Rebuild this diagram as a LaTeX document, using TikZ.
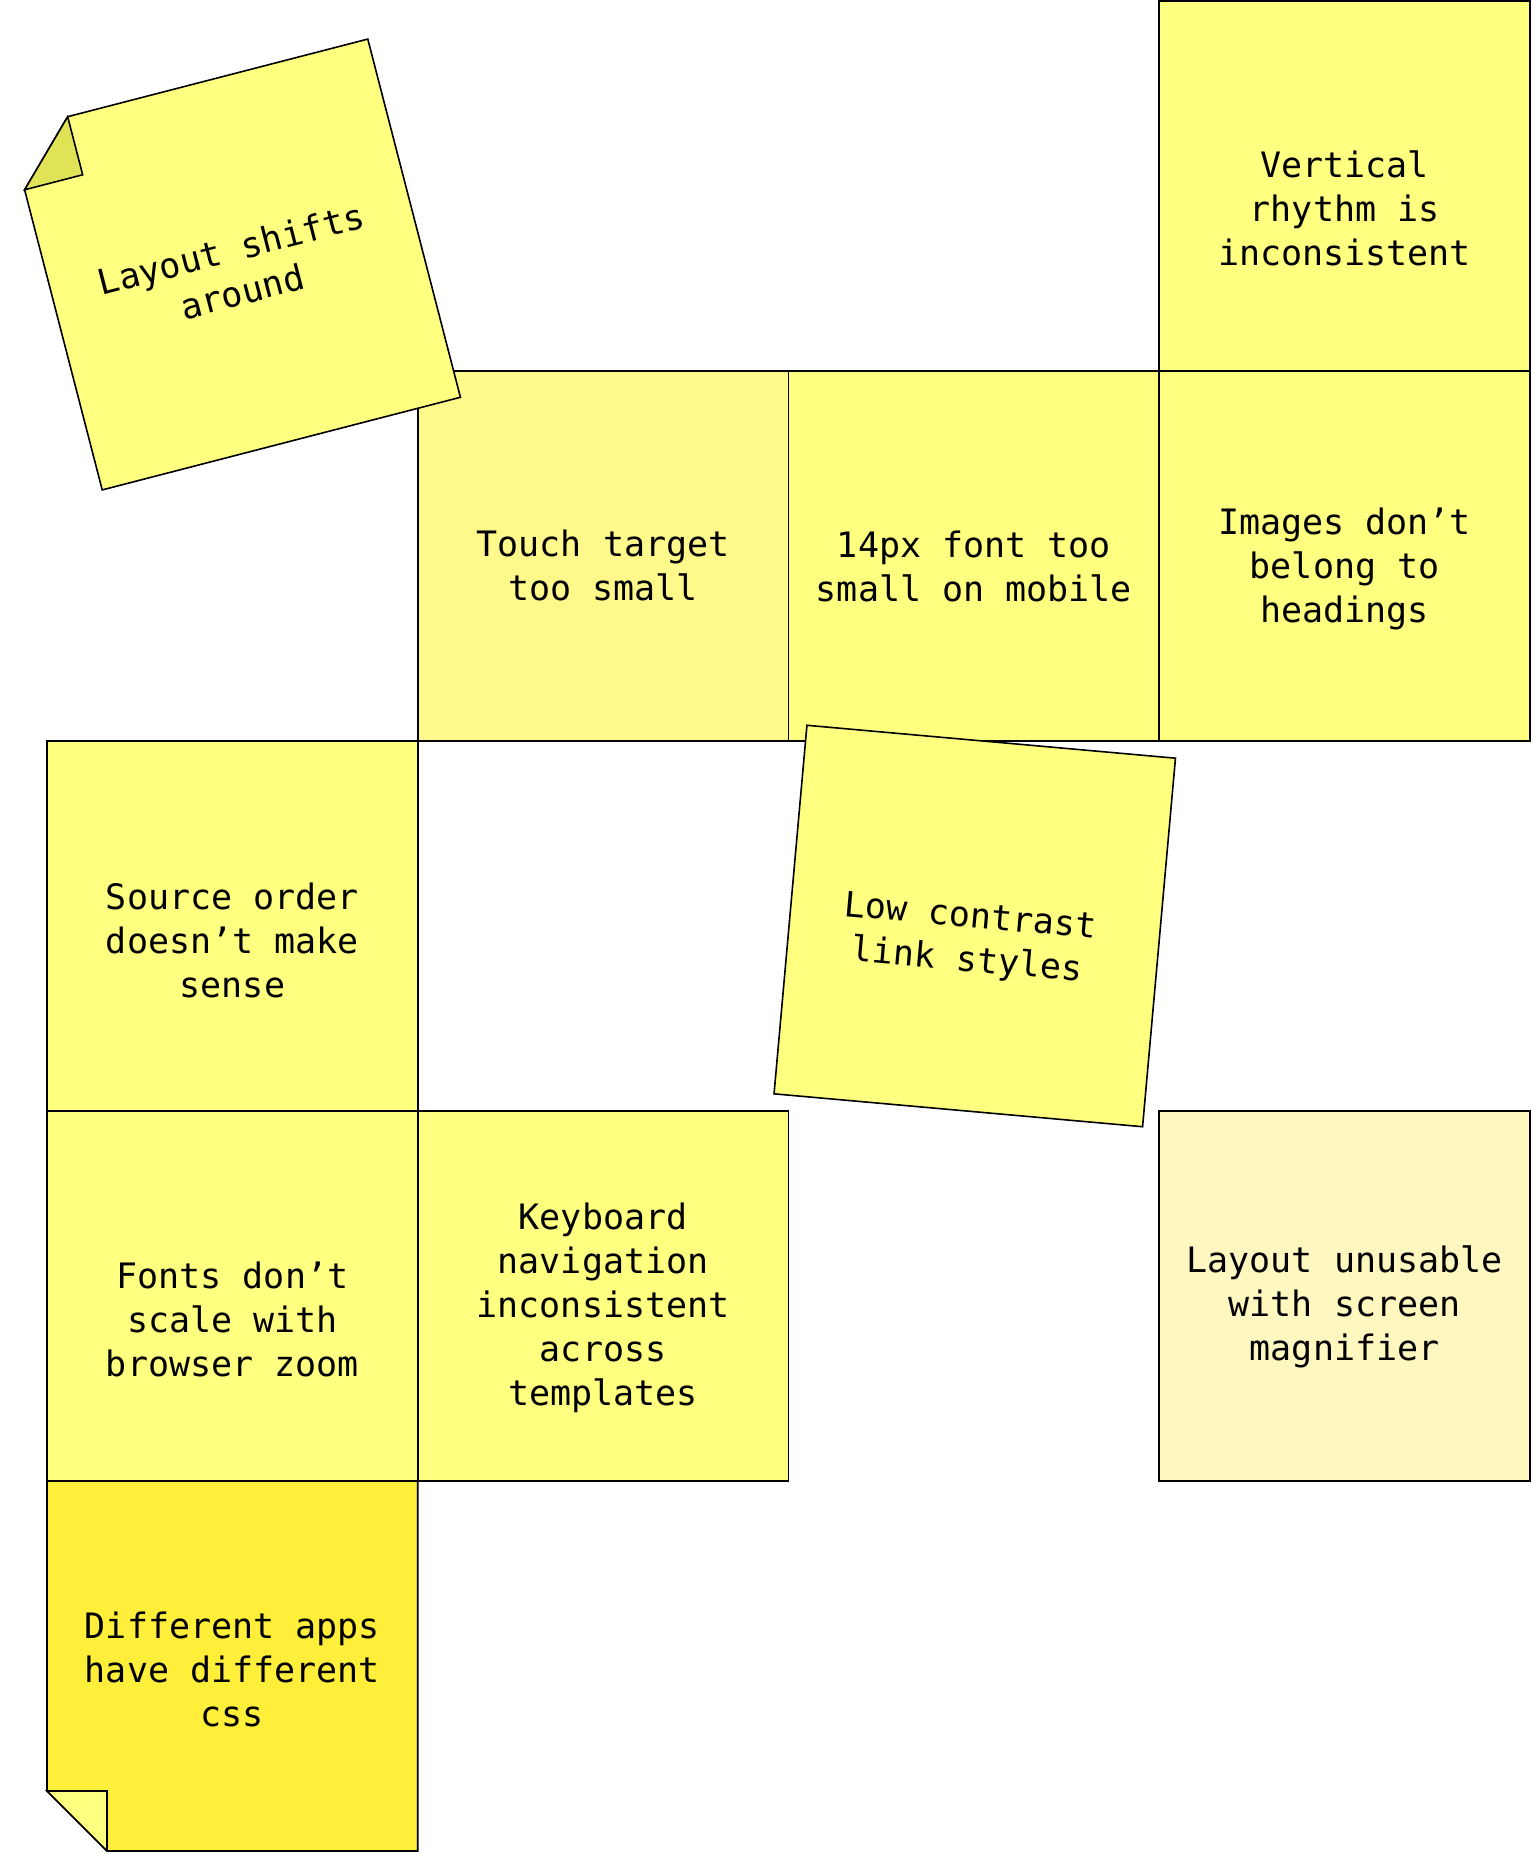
\documentclass[tikz,border=0pt]{standalone}
\usepackage{fontspec}
\setmonofont{DejaVu Sans Mono}
\usetikzlibrary{calc}
\definecolor{stickyyellow}{HTML}{FFFF80}
\definecolor{stickypale}{HTML}{FFF98C}
\definecolor{stickycream}{HTML}{FFF7C0}
\definecolor{stickydeep}{HTML}{FFEE3A}
\definecolor{foldolive}{HTML}{E1E356}
\newcommand\Note[5][0]{
\node[note,fill=#4] (#2) at (#3) {};
\node[notetext] (#2-text) at ($(#2.center)!#1/185!(#2.south)$) {#5};
}

\begin{document}
\begin{tikzpicture}[x=1pt,y=-1pt,
  note/.style={draw,line width=1.6pt,minimum width=370.75pt,minimum height=370pt,inner sep=0pt,outer sep=0pt},
  notetext/.style={align=center,inner sep=0pt,font=\ttfamily\fontsize{35}{44}\selectfont},
  fold/.style={line width=1.6pt,line join=miter}]
\useasboundingbox
  (0,0) rectangle (1533,1852);
\Note[22]{rhythm}{1344.6,186}{stickyyellow}{Vertical\\rhythm is\\inconsistent}
\Note[9]{touch}{603.1,556}{stickypale}{Touch target\\too small}
\Note[10]{mobile}{973.9,556}{stickyyellow}{14px font too\\small on mobile}
\Note[13]{images}{1344.6,556}{stickyyellow}{Images don’t\\belong to\\headings}
\Note[14]{source}{232.4,926}{stickyyellow}{Source order\\doesn’t make\\sense}
\Note[23]{fonts}{232.4,1296}{stickyyellow}{Fonts don’t\\scale with\\browser zoom}
\Note[12]{keyboard}{603.1,1296}{stickyyellow}{Keyboard\\navigation\\inconsistent\\across\\templates}
\Note[11]{magnifier}{1344.6,1296}{stickycream}{Layout unusable\\with screen\\magnifier}

% css note, corner folded at the bottom left
\node[note,draw=none] (apps) at (232.4,1666) {};
\filldraw[fold,fill=stickydeep]
  (apps.north west) -- (apps.north east) -- (apps.south east)
  -- ([xshift=60pt]apps.south west) -- ([yshift=60pt]apps.south west) -- cycle;
\filldraw[fold,fill=stickyyellow]
  ([yshift=60pt]apps.south west) -- ([shift={(60pt,60pt)}]apps.south west) -- ([xshift=60pt]apps.south west) -- cycle;
\node[notetext] (apps-text) at ($(apps.center)!3/185!(apps.south)$) {Different apps\\have different\\css};

% tilted note, corner folded at the top left
\node[note,draw=none,minimum width=370pt,rotate=14.5] (shifts) at (235,264.5) {};
\filldraw[fold,fill=stickyyellow]
  ($(shifts.north west)!60/370!(shifts.south west)$) -- ($(shifts.north west)!60/370!(shifts.north east)$)
  -- (shifts.north east) -- (shifts.south east) -- (shifts.south west) -- cycle;
\filldraw[fold,fill=foldolive]
  ($(shifts.north west)!60/370!(shifts.south west)$) -- ($(shifts.north west)!60/370!(shifts.north east)$)
  -- ($(shifts.north west)!60/370!(shifts.south east)$) -- cycle;
\node[notetext,rotate=14.5] (shifts-text) at ($(shifts.center)!6/185!(shifts.south)$) {Layout shifts\\around};

% tilted note over the grid
\node[note,fill=stickyyellow,minimum width=370pt,rotate=-5.1] (contrast) at (974.75,926) {};
\node[notetext,rotate=-5.1] (contrast-text) at ($(contrast.center)!15/185!(contrast.south)!5/185!(contrast.west)$) {Low contrast\\link styles};
\end{tikzpicture}
\end{document}
